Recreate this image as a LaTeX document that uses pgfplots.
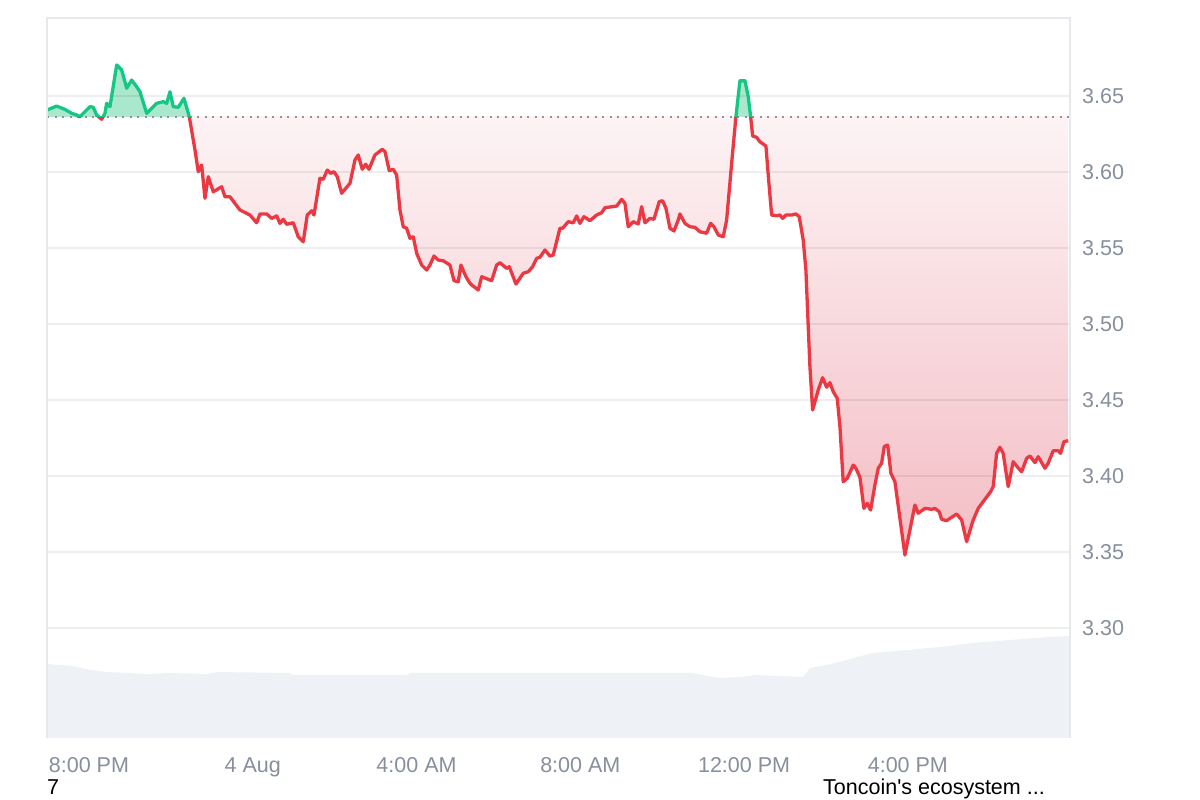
\documentclass[border=0pt]{standalone}
\usepackage{fontspec}
\setmainfont{Liberation Sans}[Ligatures=TeXOff]
\usepackage{pgfplots}
\usepackage{pgfplotstable}
\pgfplotsset{compat=1.18}
\definecolor{upgreen}{HTML}{16C784}
\definecolor{downred}{HTML}{EA3943}
\definecolor{gtop}{HTML}{A6E7CA}
\definecolor{gbot}{HTML}{D4F4E6}
\definecolor{rbot}{HTML}{F3BDC4}
\definecolor{bordergray}{HTML}{E6E8EB}
\definecolor{labelgray}{HTML}{878F9C}
\definecolor{dotgray}{HTML}{8E949C}
\definecolor{volgray}{HTML}{EEF1F5}

\pgfplotsset{
  common/.style={at={(47pt,62pt)}, anchor=south west, width=1023pt, scale only axis, xmin=-0.024, xmax=24.96},
  belowbase/.style={common, height=621.3pt, ymin=3.22763, ymax=3.6364, hide axis},
  abovebase/.style={common, at={(47pt,683.3pt)}, height=98.7pt, ymin=3.6364, ymax=3.70132, hide axis},
}

\pgfplotstableread{
h p
-0.02 3.6408
0.212 3.6434
0.415 3.6412
0.579 3.6386
0.701 3.6375
0.781 3.6364
0.862 3.6386
1.026 3.6430
1.106 3.6426
1.189 3.6375
1.311 3.6347
1.392 3.6386
1.433 3.6452
1.514 3.6430
1.678 3.6704
1.800 3.6671
1.922 3.6551
2.044 3.6605
2.166 3.6561
2.247 3.6528
2.410 3.6386
2.654 3.6452
2.816 3.6463
2.899 3.6452
2.979 3.6528
3.060 3.6430
3.182 3.6426
3.321 3.6485
3.451 3.6364
3.590 3.6145
3.670 3.6002
3.753 3.6046
3.834 3.5827
3.915 3.5969
4.037 3.5870
4.242 3.5903
4.322 3.5837
4.444 3.5837
4.689 3.5750
4.933 3.5717
5.096 3.5666
5.177 3.5724
5.341 3.5724
5.463 3.5695
5.585 3.5711
5.665 3.5662
5.746 3.5689
5.829 3.5656
5.990 3.5666
6.112 3.5574
6.234 3.5541
6.332 3.5717
6.440 3.5745
6.496 3.5717
6.642 3.5959
6.723 3.5952
6.821 3.6013
6.904 3.5991
6.984 3.6002
7.065 3.5969
7.172 3.5860
7.375 3.5926
7.497 3.6079
7.577 3.6112
7.675 3.6018
7.758 3.6051
7.839 3.6018
7.985 3.6112
8.164 3.6149
8.230 3.6134
8.335 3.6009
8.432 3.6018
8.515 3.5980
8.596 3.5750
8.676 3.5640
8.759 3.5630
8.840 3.5564
8.921 3.5574
9.004 3.5465
9.126 3.5388
9.248 3.5355
9.328 3.5388
9.426 3.5447
9.531 3.5421
9.653 3.5416
9.817 3.5388
9.915 3.5285
10.020 3.5278
10.085 3.5388
10.208 3.5311
10.305 3.5268
10.347 3.5257
10.508 3.5224
10.591 3.5311
10.835 3.5285
10.957 3.5388
11.038 3.5403
11.201 3.5366
11.265 3.5377
11.429 3.5263
11.607 3.5334
11.729 3.5344
11.836 3.5377
11.934 3.5432
12.015 3.5439
12.137 3.5487
12.259 3.5447
12.339 3.5454
12.503 3.5630
12.569 3.5630
12.706 3.5673
12.828 3.5666
12.911 3.5711
12.991 3.5662
13.089 3.5706
13.236 3.5680
13.399 3.5717
13.521 3.5732
13.602 3.5765
13.888 3.5776
14.010 3.5820
14.090 3.5794
14.171 3.5640
14.293 3.5673
14.415 3.5658
14.498 3.5772
14.579 3.5666
14.701 3.5695
14.799 3.5689
14.928 3.5805
15.011 3.5811
15.092 3.5761
15.189 3.5630
15.287 3.5612
15.392 3.5684
15.433 3.5724
15.556 3.5662
15.678 3.5640
15.800 3.5636
15.922 3.5607
16.085 3.5597
16.183 3.5662
16.264 3.5640
16.369 3.5586
16.491 3.5574
16.574 3.5684
16.696 3.6057
16.801 3.6364
16.899 3.6601
17.021 3.6601
17.101 3.6496
17.160 3.6364
17.209 3.6237
17.306 3.6228
17.387 3.6199
17.534 3.6171
17.590 3.5980
17.673 3.5717
17.795 3.5712
17.875 3.5717
17.941 3.5695
18.022 3.5717
18.161 3.5717
18.266 3.5724
18.347 3.5706
18.444 3.5553
18.510 3.5355
18.567 3.4982
18.608 3.4719
18.674 3.4434
18.811 3.4566
18.918 3.4647
19.016 3.4584
19.097 3.4614
19.177 3.4555
19.275 3.4511
19.341 3.4324
19.421 3.3962
19.519 3.3985
19.666 3.4072
19.731 3.4051
19.829 3.3991
19.927 3.3787
20.007 3.3820
20.090 3.3776
20.195 3.3941
20.276 3.4051
20.359 3.4084
20.423 3.4193
20.506 3.4204
20.586 3.4018
20.684 3.3962
20.928 3.3480
21.172 3.3809
21.253 3.3755
21.416 3.3787
21.580 3.3781
21.661 3.3787
21.766 3.3765
21.824 3.3715
21.946 3.3706
22.068 3.3728
22.191 3.3750
22.313 3.3711
22.435 3.3568
22.596 3.3711
22.718 3.3787
22.882 3.3847
23.021 3.3897
23.084 3.3930
23.167 3.4149
23.248 3.4189
23.328 3.4149
23.450 3.3930
23.572 3.4094
23.670 3.4061
23.778 3.4028
23.900 3.4116
23.980 3.4132
24.103 3.4088
24.183 3.4127
24.347 3.4051
24.427 3.4084
24.549 3.4166
24.671 3.4166
24.730 3.4149
24.811 3.4226
24.916 3.4232
}\pricetable

\pgfplotstableread{
h v
-0.02 74
0.61 72
1.03 68
1.44 66
2.42 64
2.98 65
3.88 64
4.13 66
5.91 65
5.98 63
8.77 63
8.84 65
14.46 65
15.75 65
16.09 62
16.41 60
16.90 61
17.31 63
18.44 61
18.61 70
19.02 73
19.51 78
19.76 81
20.15 85
20.98 88
21.78 91
22.59 95
23.81 99
24.40 101
24.96 102
}\voltable

\begin{document}
\begin{tikzpicture}
\useasboundingbox (0,0) rectangle (1200pt,800pt);
% volume
\begin{axis}[common, height=720pt, ymin=0, ymax=720, hide axis]
\addplot[fill=volgray, draw=none] table[x=h,y=v] \voltable \closedcycle;
\end{axis}
% fill below baseline (area between price and baseline, clipped by this axis box)
\begin{axis}[belowbase]
\addplot[top color=white, bottom color=rbot, draw=none] table[x=h,y=p] \pricetable
  -- (axis cs:24.916,3.70) -- (axis cs:-0.02,3.70) -- cycle;
\end{axis}
% fill above baseline
\begin{axis}[abovebase]
\addplot[top color=gtop, bottom color=gbot, draw=none] table[x=h,y=p] \pricetable
  -- (axis cs:24.916,3.60) -- (axis cs:-0.02,3.60) -- cycle;
\end{axis}
% main axis
\begin{axis}[
  common, height=720pt,
  ymin=3.22763, ymax=3.70132,
  axis line style={draw=none},
  tick style={draw=none},
  major tick length=0pt,
  xtick={1,5,9,13,17,21},
  xticklabels={8:00 PM,4 Aug,4:00 AM,8:00 AM,12:00 PM,4:00 PM},
  ytick={3.30,3.35,3.40,3.45,3.50,3.55,3.60,3.65},
  yticklabels={3.30,3.35,3.40,3.45,3.50,3.55,3.60,3.65},
  yticklabel pos=right,
  ymajorgrids,
  grid style={draw=black, draw opacity=0.065, line width=1.5pt},
  xticklabel style={anchor=base, inner sep=0pt, yshift=-35pt, text=labelgray, font=\fontsize{21.5}{25}\selectfont},
  yticklabel style={anchor=west, inner sep=0pt, xshift=12pt, text=labelgray, font=\fontsize{21.5}{25}\selectfont},
]
\addplot[dotgray, line width=2pt, dash pattern=on 2pt off 5.5pt] coordinates {(-0.024,3.6364) (24.96,3.6364)};
\end{axis}
% line below baseline
\begin{axis}[belowbase]
\addplot[downred, line width=3.3pt, line join=round] table[x=h,y=p] \pricetable;
\end{axis}
% line above baseline
\begin{axis}[abovebase]
\addplot[upgreen, line width=3.3pt, line join=round] table[x=h,y=p] \pricetable;
\end{axis}
% frame
\draw[bordergray, line width=1.5pt] (47pt,62pt) -- (47pt,782pt) -- (1070pt,782pt) -- (1070pt,62pt);
% bottom texts
\node[anchor=base west, inner sep=0pt, font=\fontsize{21.5}{25}\selectfont, text=black] at (47pt,5pt) {7};
\node[anchor=base west, inner sep=0pt, font=\fontsize{21.5}{25}\selectfont, text=black] at (823pt,5pt) {Toncoin's ecosystem ...};
\end{tikzpicture}
\end{document}
